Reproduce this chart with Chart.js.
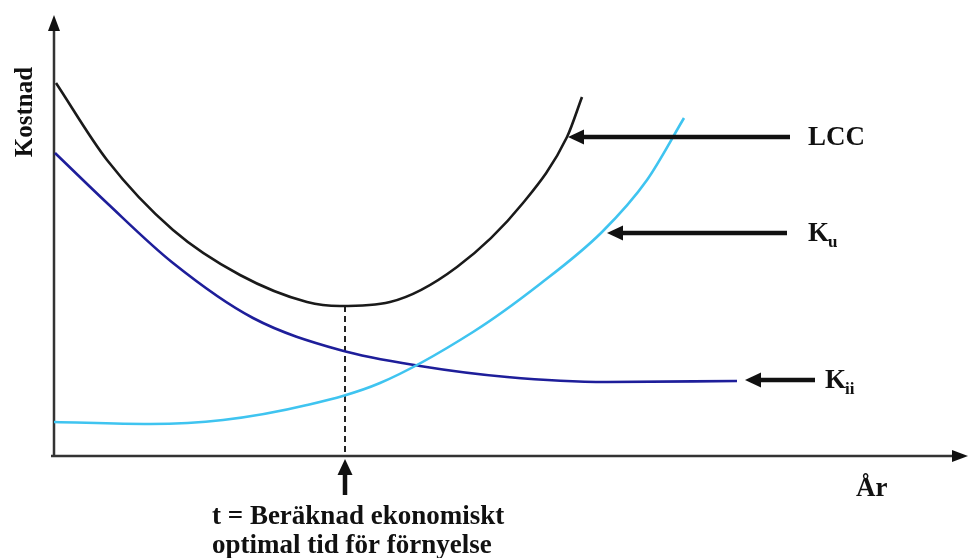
<!DOCTYPE html>
<html>
<head>
<meta charset="utf-8">
<script src="https://cdn.jsdelivr.net/npm/chart.js@4.4.1/dist/chart.umd.min.js"></script>
<style>
  html, body { margin: 0; padding: 0; background: #fff; }
  #wrap { width: 969px; height: 558px; }
</style>
</head>
<body>
<div id="wrap"><canvas id="chart" width="969" height="558"></canvas></div>
<script>
// Kurvor (x = tid, y = kostnad, godtyckliga enheter)
const lccX = [2, 53, 119, 186, 253, 286, 336, 403, 469, 513, 528];
const lccY = [373, 296, 226, 181, 154, 150, 154, 189, 253, 319, 359];

const kuX = [0, 96, 169, 253, 326, 419, 486, 548, 593, 630];
const kuY = [34, 32, 36, 51, 73, 124, 172, 224, 276, 338];

const kiiX = [1, 53, 119, 199, 286, 366, 453, 553, 683];
const kiiY = [303, 253, 193, 138, 106, 90, 79, 74, 75];

// Pilar med etiketter
const labels = ["LCC", "K|u", "K|ii"];
const arrowFrom = [736, 733, 761];
const arrowTo = [514, 553, 691];
const arrowY = [319, 223, 76];
const labelX = [754, 754, 771];

const optimalT = 291;
const lccMin = 150;
const xMax = 914;
const yMax = 441;

function pts(xs, ys) {
  return xs.map((x, i) => ({ x: x, y: ys[i] }));
}

const serif = '"Liberation Serif", "Times New Roman", serif';

function arrowHead(ctx, x, y, dir, len, half) {
  ctx.beginPath();
  ctx.moveTo(x, y);
  ctx.lineTo(x - len * Math.cos(dir) - half * Math.sin(dir), y - len * Math.sin(dir) + half * Math.cos(dir));
  ctx.lineTo(x - len * Math.cos(dir) + half * Math.sin(dir), y - len * Math.sin(dir) - half * Math.cos(dir));
  ctx.closePath();
  ctx.fill();
}

const decorations = {
  id: "decorations",
  beforeDatasetsDraw(chart) {
    const ctx = chart.ctx;
    const xs = chart.scales.x, ys = chart.scales.y;
    const x0 = xs.getPixelForValue(0), y0 = ys.getPixelForValue(0);
    ctx.save();
    // axlar
    ctx.strokeStyle = "#333";
    ctx.fillStyle = "#111";
    ctx.lineWidth = 2.5;
    ctx.beginPath();
    ctx.moveTo(x0, y0 + 1);
    ctx.lineTo(x0, ys.getPixelForValue(yMax) + 8);
    ctx.moveTo(x0 - 3, y0);
    ctx.lineTo(xs.getPixelForValue(xMax) - 8, y0);
    ctx.stroke();
    arrowHead(ctx, x0, ys.getPixelForValue(yMax), -Math.PI / 2, 16, 6);
    arrowHead(ctx, xs.getPixelForValue(xMax), y0, 0, 16, 6);

    // streckad linje vid optimum
    const xt = xs.getPixelForValue(optimalT);
    ctx.setLineDash([6, 4]);
    ctx.lineWidth = 2;
    ctx.strokeStyle = "#222";
    ctx.beginPath();
    ctx.moveTo(xt, ys.getPixelForValue(lccMin));
    ctx.lineTo(xt, y0);
    ctx.stroke();
    ctx.restore();
  },
  afterDatasetsDraw(chart) {
    const ctx = chart.ctx;
    const xs = chart.scales.x, ys = chart.scales.y;
    const y0 = ys.getPixelForValue(0);
    ctx.save();
    ctx.fillStyle = "#111";
    ctx.strokeStyle = "#111";

    // pilar till kurvorna
    labels.forEach((lab, i) => {
      const xa = xs.getPixelForValue(arrowFrom[i]);
      const xb = xs.getPixelForValue(arrowTo[i]);
      const y = ys.getPixelForValue(arrowY[i]);
      ctx.lineWidth = 4.5;
      ctx.beginPath();
      ctx.moveTo(xa, y);
      ctx.lineTo(xb + 12, y);
      ctx.stroke();
      arrowHead(ctx, xb, y, Math.PI, 16, 7.5);

      const parts = lab.split("|");
      const lx = xs.getPixelForValue(labelX[i]);
      ctx.textBaseline = "middle";
      ctx.textAlign = "left";
      ctx.font = "bold 27px " + serif;
      ctx.fillText(parts[0], lx, y + 1);
      if (parts[1]) {
        const w = ctx.measureText(parts[0]).width;
        ctx.font = "bold 17px " + serif;
        ctx.fillText(parts[1], lx + w - 1, y + 10);
      }
    });

    // uppåtpil under optimum
    const xt = xs.getPixelForValue(optimalT);
    ctx.lineWidth = 4.5;
    ctx.beginPath();
    ctx.moveTo(xt, y0 + 39);
    ctx.lineTo(xt, y0 + 14);
    ctx.stroke();
    arrowHead(ctx, xt, y0 + 3, -Math.PI / 2, 16, 7.5);

    ctx.font = "bold 27px " + serif;
    ctx.textAlign = "left";
    ctx.textBaseline = "alphabetic";
    ctx.fillText("t = Beräknad ekonomiskt", 212, 524);
    ctx.fillText("optimal tid för förnyelse", 212, 553);

    ctx.fillText("År", 856, 496);

    // y-axelns titel
    ctx.font = "bold 25px " + serif;
    ctx.translate(32, 112);
    ctx.rotate(-Math.PI / 2);
    ctx.textAlign = "center";
    ctx.fillText("Kostnad", 0, 0);
    ctx.restore();
  }
};

const line = (data, color) => ({
  data: data,
  showLine: true,
  borderColor: color,
  borderWidth: 2.6,
  pointRadius: 0,
  fill: false,
  cubicInterpolationMode: "monotone"
});

new Chart(document.getElementById("chart").getContext("2d"), {
  type: "scatter",
  data: {
    datasets: [
      line(pts(kuX, kuY), "#3fc4f0"),
      line(pts(kiiX, kiiY), "#1e1e9a"),
      line(pts(lccX, lccY), "#1a1a1a")
    ]
  },
  options: {
    responsive: false,
    animation: false,
    layout: { padding: { left: 54, top: 15, right: 1, bottom: 102 } },
    plugins: { legend: { display: false }, tooltip: { enabled: false } },
    scales: {
      x: { type: "linear", min: 0, max: xMax, display: false },
      y: { type: "linear", min: 0, max: yMax, display: false }
    }
  },
  plugins: [decorations]
});
</script>
</body>
</html>
